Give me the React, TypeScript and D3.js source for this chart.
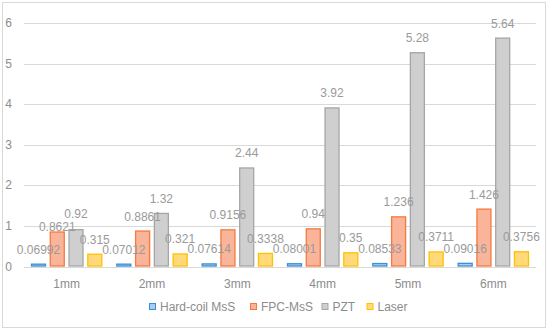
import * as d3 from "d3";
import React, {useEffect, useRef} from "react";

const categories = ["1mm", "2mm", "3mm", "4mm", "5mm", "6mm"];
const seriesNames = ["Hard-coil MsS", "FPC-MsS", "PZT", "Laser"];
const hardCoil = [0.06992, 0.07012, 0.07614, 0.08001, 0.08533, 0.09016];
const fpcMss = [0.8621, 0.8861, 0.9156, 0.94, 1.236, 1.426];
const pzt = [0.92, 1.32, 2.44, 3.92, 5.28, 5.64];
const laser = [0.315, 0.321, 0.3338, 0.35, 0.3711, 0.3756];
const yTicks = [0, 1, 2, 3, 4, 5, 6];

const fills = ["#a9cdee", "#f9b49a", "#cfcfcf", "#ffd97a"];
const strokes = ["#3b8fd6", "#f47a3e", "#a6a6a6", "#ffc000"];

const W = 550;
const H = 332;
const FONT = "'Liberation Sans', Arial, sans-serif";

interface Label { cat: string; si: number; v: number; x: number; y: number; w: number }

const App: React.FC = () => {
  const ref = useRef<SVGSVGElement | null>(null);

  useEffect(() => {
    const svg = d3.select(ref.current);
    svg.selectAll('*').remove();
    const values = [hardCoil, fpcMss, pzt, laser];

    // outer frame
    svg.append('rect')
      .attr('x', 2.5).attr('y', 2.5)
      .attr('width', 543).attr('height', 325)
      .attr('fill', '#fff')
      .attr('stroke', '#d9d9d9');

    const x = d3.scaleBand().domain(categories).range([24, 536]);
    const xInner = d3.scaleBand().domain(seriesNames).range([7, 78.3]).paddingInner(0.2);
    const y = d3.scaleLinear().domain([0, 6]).range([266.5, 23]);

    // grid lines
    svg.append('g')
      .selectAll('line')
      .data(yTicks)
      .enter()
      .append('line')
      .attr('x1', 24).attr('x2', 536)
      .attr('y1', (d) => Math.round(y(d)) + 0.5)
      .attr('y2', (d) => Math.round(y(d)) + 0.5)
      .attr('stroke', '#d9d9d9')
      .attr('stroke-width', 1);

    svg.append('g')
      .selectAll('text')
      .data(yTicks)
      .enter()
      .append('text')
      .attr('x', 12)
      .attr('y', (d) => y(d) + 4)
      .attr('text-anchor', 'end')
      .attr('fill', '#8c8c8c')
      .style('font-family', FONT)
      .style('font-size', '12px')
      .text((d) => d);

    // bars by series
    seriesNames.forEach((name, si) => {
      const g = svg.append('g');
      const data = values[si].map((v, i) => ({cat: categories[i], v}));
      g.selectAll('rect')
        .data(data)
        .enter()
        .append('rect')
        .attr('x', (d) => (x(d.cat) || 0) + (xInner(name) || 0) + 0.5)
        .attr('y', (d) => y(d.v) + 0.5)
        .attr('width', xInner.bandwidth() - 1)
        .attr('height', (d) => Math.max(0, y(0) - y(d.v) - 1))
        .attr('fill', fills[si])
        .attr('stroke', strokes[si])
        .attr('stroke-width', 1.3);
    });

    // data labels, with a simple nudge so neighbours don't sit on top of each other
    const labels: Label[] = [];
    categories.forEach((cat, ci) => {
      seriesNames.forEach((name, si) => {
        const v = values[si][ci];
        labels.push({
          cat, si, v,
          x: (x(cat) || 0) + (xInner(name) || 0) + xInner.bandwidth() / 2,
          y: y(v) - 10,
          w: String(v).length * 6.6,
        });
      });
    });
    labels.forEach((a) => {
      labels.forEach((b) => {
        if (a === b || a.cat !== b.cat || b.si !== a.si + 1) return;
        const hOverlap = Math.abs(a.x - b.x) < (a.w + b.w) / 2;
        const dy = a.y - b.y;
        if (hOverlap && dy > -12 && dy < 12) {
          if (a.y >= b.y) { a.y = b.y + 12; b.y -= 1; } else { b.y = a.y + 12; a.y -= 1; }
        }
      });
    });

    svg.append('g')
      .selectAll('text')
      .data(labels)
      .enter()
      .append('text')
      .attr('x', (d) => d.x)
      .attr('y', (d) => d.y)
      .attr('text-anchor', 'middle')
      .attr('fill', '#9a9a9a')
      .style('font-family', FONT)
      .style('font-size', '12px')
      .text((d) => String(d.v));

    // x labels
    svg.append('g')
      .selectAll('text')
      .data(categories)
      .enter()
      .append('text')
      .attr('x', (d) => (x(d) || 0) + x.bandwidth() / 2)
      .attr('y', 288)
      .attr('text-anchor', 'middle')
      .attr('fill', '#8c8c8c')
      .style('font-family', FONT)
      .style('font-size', '12px')
      .text((d) => d);

    // legend
    const legendX = [149, 250, 321.5, 366.5];
    const legend = svg.append('g');
    seriesNames.forEach((name, si) => {
      legend.append('rect')
        .attr('x', legendX[si] + 0.5).attr('y', 303.5)
        .attr('width', 6).attr('height', 6)
        .attr('fill', fills[si])
        .attr('stroke', strokes[si]);
      legend.append('text')
        .attr('x', legendX[si] + 11)
        .attr('y', 311)
        .attr('fill', '#8c8c8c')
        .style('font-family', FONT)
        .style('font-size', '12px')
        .text(name);
    });

    return () => {
      svg.selectAll('*').remove();
    };
  }, []);

  return <svg ref={ref} width={W} height={H} style={{position: 'absolute', left: 0, top: 0}}/>;
};

export default App;
